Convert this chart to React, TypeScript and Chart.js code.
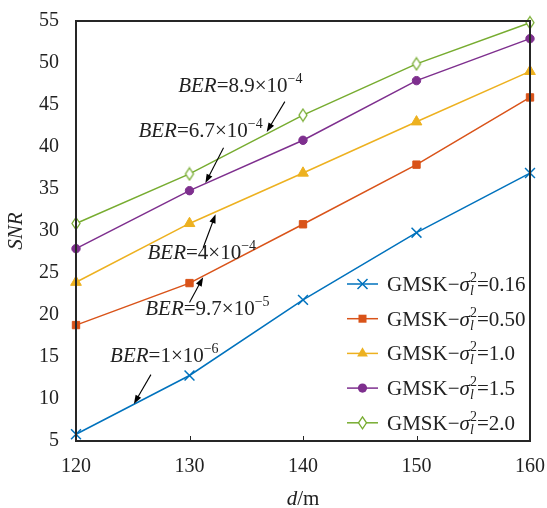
import React, { useEffect, useRef } from 'react';
import { Chart, registerables } from 'chart.js';

Chart.register(...registerables);

// ---------- data ----------
const distances = [120, 130, 140, 150, 160];
const snrSigma016 = [5.8, 12.8, 21.8, 29.8, 36.9];
const snrSigma050 = [18.8, 23.8, 30.8, 37.9, 45.9];
const snrSigma10 = [23.9, 30.9, 36.9, 43.0, 49.0];
const snrSigma15 = [27.9, 34.8, 40.8, 47.9, 52.9];
const snrSigma20 = [30.9, 36.8, 43.8, 49.9, 54.8];
const sigmaLabels = ['0.16', '0.50', '1.0', '1.5', '2.0'];

// BER annotations (anchors in data units: d, SNR)
const berMantissa = ['8.9', '6.7', '4', '9.7', '1'];
const berExponent = ['\u22124', '\u22124', '\u22124', '\u22125', '\u22126'];
const berTextX = [129.0, 125.5, 126.3, 126.1, 123.0];
const berTextY = [47.4, 42.0, 27.5, 20.8, 15.2];
const arrowTailX = [138.4, 133.0, 131.2, 130.0, 126.6];
const arrowTailY = [45.4, 39.9, 28.0, 21.5, 12.9];
const arrowHeadX = [136.8, 131.4, 132.3, 131.2, 125.1];
const arrowHeadY = [41.8, 35.7, 32.0, 24.5, 9.4];

const X_MIN = 120, X_MAX = 160, X_STEP = 10;
const Y_MIN = 5, Y_MAX = 55, Y_STEP = 5;

// ---------- styles ----------
const SERIF = '"Liberation Serif", "Times New Roman", serif';
const C_BLUE = '#0072BD';
const C_RED = '#D95319';
const C_ORANGE = '#EDB120';
const C_PURPLE = '#7E2F8E';
const C_GREEN = '#77AC30';
const AXIS_COLOR = '#262626';
const TEXT_COLOR = '#222222';

const seriesColors = [C_BLUE, C_RED, C_ORANGE, C_PURPLE, C_GREEN];
const seriesMarkers = ['crossRot', 'rect', 'triangle', 'circle', 'diamond'];

function makeDiamond(): HTMLCanvasElement {
  const c = document.createElement('canvas');
  c.width = 12;
  c.height = 15;
  const g = c.getContext('2d')!;
  g.beginPath();
  g.moveTo(6, 1.5);
  g.lineTo(10, 7.5);
  g.lineTo(6, 13.5);
  g.lineTo(2, 7.5);
  g.closePath();
  g.fillStyle = '#ffffff';
  g.fill();
  g.lineWidth = 1.3;
  g.strokeStyle = C_GREEN;
  g.stroke();
  return c;
}

type Seg = { text: string; italic?: boolean; size: number; dy?: number };

function drawRich(ctx: CanvasRenderingContext2D, x: number, baseline: number, segs: Seg[]) {
  let cx = x;
  for (const s of segs) {
    ctx.font = `${s.italic ? 'italic ' : ''}${s.size}px ${SERIF}`;
    ctx.fillText(s.text, cx, baseline + (s.dy || 0));
    cx += ctx.measureText(s.text).width;
  }
  return cx;
}

function drawArrow(ctx: CanvasRenderingContext2D, x1: number, y1: number, x2: number, y2: number) {
  const ang = Math.atan2(y2 - y1, x2 - x1);
  const L = 9, W = 3.2;
  ctx.beginPath();
  ctx.moveTo(x1, y1);
  ctx.lineTo(x2 - Math.cos(ang) * 4, y2 - Math.sin(ang) * 4);
  ctx.stroke();
  ctx.beginPath();
  ctx.moveTo(x2, y2);
  ctx.lineTo(x2 - L * Math.cos(ang) + W * Math.sin(ang), y2 - L * Math.sin(ang) - W * Math.cos(ang));
  ctx.lineTo(x2 - L * Math.cos(ang) - W * Math.sin(ang), y2 - L * Math.sin(ang) + W * Math.cos(ang));
  ctx.closePath();
  ctx.fill();
}

function drawMarker(ctx: CanvasRenderingContext2D, kind: string, x: number, y: number, color: string) {
  ctx.save();
  ctx.strokeStyle = color;
  ctx.fillStyle = color;
  ctx.lineWidth = 1.5;
  if (kind === 'crossRot') {
    const r = 5;
    ctx.beginPath();
    ctx.moveTo(x - r, y - r); ctx.lineTo(x + r, y + r);
    ctx.moveTo(x - r, y + r); ctx.lineTo(x + r, y - r);
    ctx.stroke();
  } else if (kind === 'rect') {
    ctx.fillRect(x - 4, y - 4, 8, 8);
  } else if (kind === 'triangle') {
    ctx.beginPath();
    ctx.moveTo(x, y - 6.2);
    ctx.lineTo(x + 5.4, y + 3.1);
    ctx.lineTo(x - 5.4, y + 3.1);
    ctx.closePath();
    ctx.fill();
  } else if (kind === 'circle') {
    ctx.beginPath();
    ctx.arc(x, y, 4.6, 0, Math.PI * 2);
    ctx.fill();
  } else if (kind === 'diamond') {
    ctx.beginPath();
    ctx.moveTo(x, y - 6); ctx.lineTo(x + 4, y); ctx.lineTo(x, y + 6); ctx.lineTo(x - 4, y);
    ctx.closePath();
    ctx.fillStyle = '#fff';
    ctx.fill();
    ctx.lineWidth = 1.3;
    ctx.stroke();
  }
  ctx.restore();
}

const overlayPlugin = {
  id: 'overlay',
  afterDatasetsDraw(chart: any) {
    const { ctx, chartArea, scales } = chart;
    const xs = scales.x, ys = scales.y;
    ctx.save();

    // frame
    ctx.strokeStyle = AXIS_COLOR;
    ctx.lineWidth = 2;
    ctx.strokeRect(chartArea.left, chartArea.top, chartArea.right - chartArea.left, chartArea.bottom - chartArea.top);

    // inward x ticks
    ctx.lineWidth = 1;
    for (let v = X_MIN + X_STEP; v < X_MAX; v += X_STEP) {
      const px = Math.round(xs.getPixelForValue(v)) + 0.5;
      ctx.beginPath();
      ctx.moveTo(px, chartArea.bottom);
      ctx.lineTo(px, chartArea.bottom - 5);
      ctx.stroke();
    }

    // BER annotations
    ctx.fillStyle = TEXT_COLOR;
    ctx.strokeStyle = '#000';
    ctx.textBaseline = 'alphabetic';
    ctx.textAlign = 'left';
    for (let i = 0; i < berMantissa.length; i++) {
      const tx = xs.getPixelForValue(berTextX[i]);
      const ty = ys.getPixelForValue(berTextY[i]) + 7;
      drawRich(ctx, tx, ty, [
        { text: 'BER', italic: true, size: 21 },
        { text: '=' + berMantissa[i] + '\u00D710', size: 21 },
        { text: berExponent[i], size: 14, dy: -9 },
      ]);
      ctx.fillStyle = '#000';
      ctx.lineWidth = 1.1;
      drawArrow(
        ctx,
        xs.getPixelForValue(arrowTailX[i]), ys.getPixelForValue(arrowTailY[i]),
        xs.getPixelForValue(arrowHeadX[i]), ys.getPixelForValue(arrowHeadY[i])
      );
      ctx.fillStyle = TEXT_COLOR;
    }

    // legend
    const rowStep = 34.7;
    const firstRowY = chartArea.bottom - 157;
    const lineX0 = chartArea.right - 183;
    const lineX1 = chartArea.right - 152;
    const textX = chartArea.right - 143;
    for (let i = 0; i < sigmaLabels.length; i++) {
      const cy = firstRowY + i * rowStep;
      ctx.strokeStyle = seriesColors[i];
      ctx.lineWidth = 1.5;
      ctx.beginPath();
      ctx.moveTo(lineX0, cy);
      ctx.lineTo(lineX1, cy);
      ctx.stroke();
      drawMarker(ctx, seriesMarkers[i], (lineX0 + lineX1) / 2, cy, seriesColors[i]);
      ctx.fillStyle = TEXT_COLOR;
      const base = cy + 7;
      let cx = drawRich(ctx, textX, base, [
        { text: 'GMSK\u2212', size: 21 },
        { text: '\u03C3', italic: true, size: 21 },
      ]);
      ctx.font = `14px ${SERIF}`;
      ctx.fillText('2', cx, base - 9);
      const w2 = ctx.measureText('2').width;
      ctx.font = `italic 14px ${SERIF}`;
      ctx.fillText('l', cx, base + 4);
      const wl = ctx.measureText('l').width;
      cx += Math.max(w2, wl);
      drawRich(ctx, cx, base, [{ text: '=' + sigmaLabels[i], size: 21 }]);
    }

    // x axis title  d/m
    ctx.fillStyle = TEXT_COLOR;
    ctx.font = `italic 21px ${SERIF}`;
    const wd = ctx.measureText('d').width;
    ctx.font = `21px ${SERIF}`;
    const wm = ctx.measureText('/m').width;
    const cxTitle = (chartArea.left + chartArea.right) / 2;
    drawRich(ctx, cxTitle - (wd + wm) / 2, chartArea.bottom + 64, [
      { text: 'd', italic: true, size: 21 },
      { text: '/m', size: 21 },
    ]);

    ctx.restore();
  },
};

export default function App() {
  const canvasRef = useRef<HTMLCanvasElement | null>(null);

  useEffect(() => {
    if (!canvasRef.current) return;
    const diamond = makeDiamond();
    const seriesData = [snrSigma016, snrSigma050, snrSigma10, snrSigma15, snrSigma20];
    const pointStyles: any[] = ['crossRot', 'rect', 'triangle', 'circle', diamond];
    const radii = [7, 5.2, 6.2, 4.2, 6];
    const datasets = seriesData.map((arr, i) => ({
      label: 'GMSK\u2212\u03C3\u00B2=' + sigmaLabels[i],
      data: distances.map((d, j) => ({ x: d, y: arr[j] })),
      borderColor: seriesColors[i],
      backgroundColor: seriesColors[i],
      borderWidth: 1.5,
      pointStyle: pointStyles[i],
      pointRadius: radii[i],
      pointBorderWidth: i === 0 ? 1.5 : 1,
      pointBackgroundColor: seriesColors[i],
      pointBorderColor: seriesColors[i],
      tension: 0,
      clip: false as any,
    }));

    const chart = new Chart(canvasRef.current, {
      type: 'line',
      data: { datasets },
      options: {
        animation: false,
        responsive: true,
        maintainAspectRatio: false,
        layout: { padding: { top: 21, right: 17, left: 0, bottom: 0 } },
        plugins: { legend: { display: false }, tooltip: { enabled: false } },
        scales: {
          x: {
            type: 'linear',
            min: X_MIN,
            max: X_MAX,
            grid: { display: false, drawTicks: false },
            border: { display: false },
            ticks: {
              stepSize: X_STEP,
              padding: 14,
              color: TEXT_COLOR,
              font: { family: SERIF, size: 20 },
              maxRotation: 0,
            },
            afterFit: (s: any) => {
              s.height = 67;
              s.paddingLeft = 0;
              s.paddingRight = 0;
            },
          },
          y: {
            type: 'linear',
            min: Y_MIN,
            max: Y_MAX,
            grid: { display: false, drawTicks: false },
            border: { display: false },
            ticks: {
              stepSize: Y_STEP,
              padding: 17,
              color: TEXT_COLOR,
              font: { family: SERIF, size: 20 },
            },
            title: {
              display: true,
              text: 'SNR',
              color: TEXT_COLOR,
              font: { family: SERIF, size: 21, style: 'italic' },
              padding: { top: 4, bottom: 0 },
            },
            afterFit: (s: any) => {
              s.width = 76;
              s.paddingTop = 0;
              s.paddingBottom = 0;
            },
          },
        },
      },
      plugins: [overlayPlugin],
    });
    return () => chart.destroy();
  }, []);

  return (
    <div style={{ position: 'fixed', left: 0, top: 0, width: 547, height: 508, background: '#fff' }}>
      <canvas ref={canvasRef} />
    </div>
  );
}
